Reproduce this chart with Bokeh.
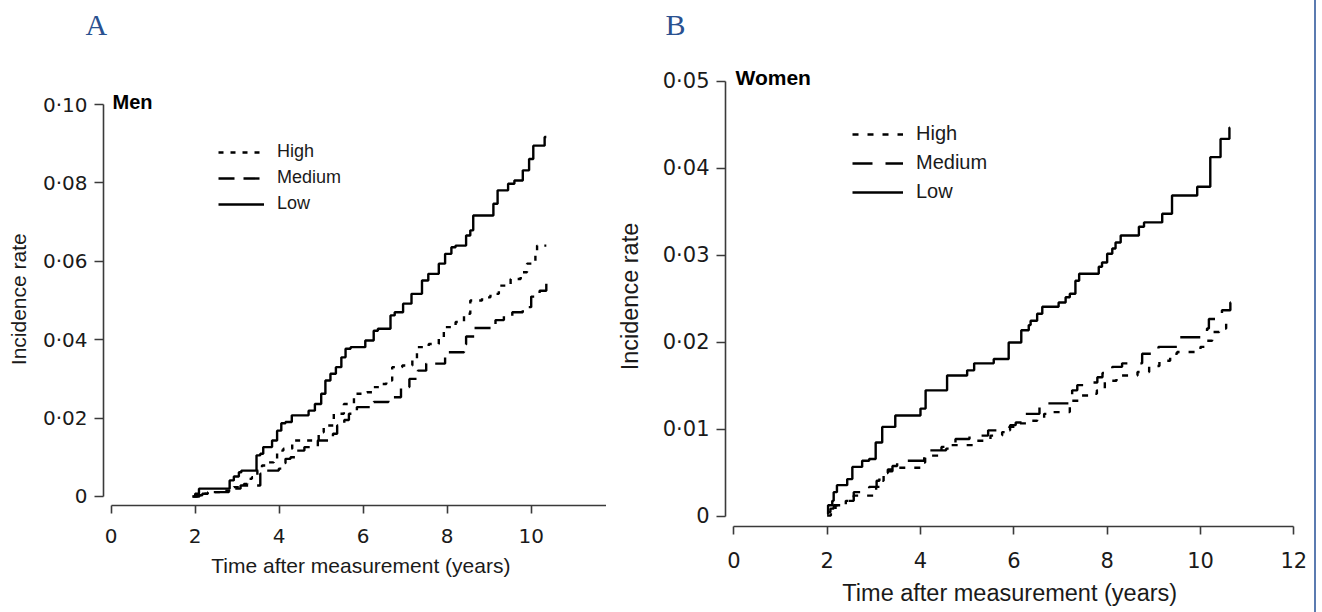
from bokeh.plotting import figure
from bokeh.models import (Range1d, FixedTicker, CustomJSTickFormatter, Legend,
                          LegendItem, Label, Title)
from bokeh.layouts import row
from bokeh.embed import file_html
from bokeh.resources import INLINE

groups = ["High", "Medium", "Low"]
x_ticks = [0, 2, 4, 6, 8, 10, 12]
men_y_ticks = [0, 0.02, 0.04, 0.06, 0.08, 0.10]
women_y_ticks = [0, 0.01, 0.02, 0.03, 0.04, 0.05]

# ---- Panel A: Men (time in years, cumulative incidence after each step) ----
men_high_t = [2.00, 2.10, 2.20, 2.30, 2.60, 2.92, 3.16, 3.24, 3.35, 3.48,
              3.59, 3.70, 3.87, 3.95, 4.10, 4.31, 4.94, 5.06, 5.30, 5.54,
              5.78, 6.09, 6.25, 6.41, 6.55, 6.69, 6.93, 7.17, 7.28, 7.56,
              7.80, 7.92, 8.20, 8.40, 8.55, 8.83, 9.03, 9.23, 9.51, 9.75,
              9.90, 10.10, 10.14, 10.36]
men_high_y = [0.0, 0.0003, 0.0007, 0.0011, 0.0015, 0.0024, 0.0032, 0.0045, 0.0049, 0.0066,
              0.0079, 0.0087, 0.0092, 0.0117, 0.0122, 0.0143, 0.0164, 0.0181, 0.0211, 0.0236,
              0.0262, 0.0266, 0.0279, 0.0287, 0.0296, 0.0330, 0.0334, 0.0351, 0.0381, 0.0389,
              0.0402, 0.0432, 0.0445, 0.0466, 0.0500, 0.0508, 0.0517, 0.0538, 0.0555, 0.0572,
              0.0594, 0.0619, 0.0640, 0.0640]

men_medium_t = [1.95, 2.05, 2.17, 2.32, 2.80, 3.08, 3.55, 3.67, 3.99, 4.05,
                4.15, 4.27, 4.40, 4.60, 4.92, 5.28, 5.38, 5.55, 5.66, 5.85,
                6.25, 6.60, 6.90, 7.10, 7.30, 7.50, 7.95, 8.40, 8.45, 8.65,
                9.15, 9.35, 9.55, 9.80, 10.00, 10.20, 10.36, 10.40]
men_medium_y = [0.0, 0.0003, 0.0007, 0.0011, 0.0020, 0.0028, 0.0058, 0.0066, 0.0071, 0.0085,
                0.0096, 0.0100, 0.0117, 0.0126, 0.0143, 0.0160, 0.0181, 0.0195, 0.0211, 0.0228,
                0.0241, 0.0253, 0.0279, 0.0300, 0.0321, 0.0339, 0.0368, 0.0388, 0.0408, 0.0430,
                0.0450, 0.0460, 0.0470, 0.0483, 0.0510, 0.0525, 0.0560, 0.0560]

men_low_t = [1.93, 2.00, 2.09, 2.82, 2.92, 3.04, 3.10, 3.46, 3.55, 3.62,
             3.83, 3.95, 4.05, 4.15, 4.30, 4.70, 4.85, 5.00, 5.10, 5.22,
             5.35, 5.48, 5.58, 5.70, 6.05, 6.25, 6.35, 6.65, 6.75, 6.95,
             7.15, 7.40, 7.55, 7.80, 7.95, 8.10, 8.20, 8.45, 8.55, 8.62,
             9.10, 9.20, 9.45, 9.60, 9.80, 9.95, 10.05, 10.32, 10.36]
men_low_y = [0.0, 0.0007, 0.0020, 0.0041, 0.0051, 0.0062, 0.0066, 0.0105, 0.0109, 0.0126,
             0.0143, 0.0168, 0.0187, 0.0190, 0.0207, 0.0219, 0.0236, 0.0262, 0.0296, 0.0313,
             0.0330, 0.0355, 0.0377, 0.0381, 0.0398, 0.0423, 0.0428, 0.0462, 0.0470, 0.0492,
             0.0517, 0.0551, 0.0568, 0.0594, 0.0619, 0.0636, 0.0640, 0.0666, 0.0679, 0.0717,
             0.0747, 0.0781, 0.0798, 0.0806, 0.0832, 0.0861, 0.0895, 0.0917, 0.0917]

# ---- Panel B: Women ----
women_high_t = [2.00, 2.08, 2.18, 2.40, 2.57, 3.05, 3.14, 3.21, 3.30, 3.39,
                4.02, 4.10, 4.45, 4.60, 5.18, 5.50, 5.75, 5.90, 6.08, 6.30,
                6.50, 6.65, 6.80, 7.20, 7.40, 7.65, 7.78, 7.95, 8.20, 8.65,
                8.90, 9.12, 9.35, 9.50, 10.00, 10.10, 10.25, 10.40, 10.55, 10.62]
women_high_y = [0.0001, 0.0007, 0.0013, 0.0018, 0.0024, 0.0034, 0.0041, 0.0048, 0.0054, 0.0056,
                0.0062, 0.0070, 0.0080, 0.0082, 0.0087, 0.0093, 0.0097, 0.0103, 0.0107, 0.0110,
                0.0112, 0.0118, 0.0120, 0.0133, 0.0139, 0.0141, 0.0145, 0.0156, 0.0162, 0.0166,
                0.0173, 0.0179, 0.0187, 0.0189, 0.0195, 0.0202, 0.0212, 0.0216, 0.0222, 0.0222]

women_medium_t = [2.00, 2.07, 2.14, 2.36, 2.57, 2.75, 2.90, 3.06, 3.12, 3.20,
                  3.30, 3.40, 3.50, 4.08, 4.20, 4.55, 4.75, 5.05, 5.45, 5.92,
                  6.04, 6.18, 6.25, 6.55, 6.65, 7.25, 7.36, 7.50, 7.79, 7.90,
                  8.11, 8.32, 8.75, 8.96, 9.10, 9.50, 10.14, 10.18, 10.46, 10.64,
                  10.65]
women_medium_y = [0.0005, 0.0009, 0.0013, 0.0018, 0.0028, 0.0030, 0.0034, 0.0041, 0.0046, 0.0050,
                  0.0052, 0.0058, 0.0064, 0.0072, 0.0076, 0.0078, 0.0089, 0.0093, 0.0099, 0.0105,
                  0.0108, 0.0112, 0.0118, 0.0126, 0.0130, 0.0145, 0.0151, 0.0154, 0.0160, 0.0165,
                  0.0172, 0.0176, 0.0187, 0.0189, 0.0195, 0.0206, 0.0216, 0.0227, 0.0237, 0.0246,
                  0.0246]

women_low_t = [2.00, 2.02, 2.11, 2.14, 2.21, 2.43, 2.54, 2.75, 2.90, 3.04,
               3.18, 3.46, 4.00, 4.11, 4.57, 5.00, 5.15, 5.57, 5.89, 6.16,
               6.32, 6.36, 6.50, 6.61, 6.96, 7.11, 7.20, 7.32, 7.40, 7.82,
               7.89, 8.00, 8.11, 8.18, 8.29, 8.68, 8.79, 9.18, 9.39, 9.93,
               10.21, 10.43, 10.62, 10.63]
women_low_y = [0.0003, 0.0013, 0.0018, 0.0028, 0.0036, 0.0043, 0.0057, 0.0064, 0.0066, 0.0085,
               0.0103, 0.0116, 0.0124, 0.0145, 0.0162, 0.0168, 0.0176, 0.0181, 0.0200, 0.0214,
               0.0220, 0.0225, 0.0233, 0.0241, 0.0246, 0.0252, 0.0256, 0.0271, 0.0279, 0.0287,
               0.0292, 0.0302, 0.0308, 0.0315, 0.0323, 0.0333, 0.0338, 0.0348, 0.0369, 0.0379,
               0.0413, 0.0434, 0.0447, 0.0447]

TEXT = "#1a1a1a"
AXIS = "#3a3a3a"
PANEL_COLOR = "#2a5190"
SANS = "Liberation Sans"
TICKFONT = "DejaVu Sans"
NB = "\u00a0"

fmt = CustomJSTickFormatter(code="return tick == 0 ? '0' : tick.toFixed(2).replace('.', '\u00b7');")


def make_panel(width, height, borders, xr, yr, y_ticks, y_bound, series, dashes,
               tick_size, label_size, legend_size, legend_geom, letter, letter_offset,
               sub, sub_geom, tick_standoff, xlabel_standoff, ylabel_standoff,
               xlabel_pad, ylabel_pad):
    p = figure(width=width, height=height, output_backend="svg", toolbar_location=None,
               x_range=Range1d(*xr), y_range=Range1d(*yr),
               min_border_left=borders[0], min_border_right=borders[1],
               min_border_top=borders[2], min_border_bottom=borders[3])
    if "frame_align" in p.properties():
        p.frame_align = False
    p.outline_line_color = None
    p.xgrid.visible = False
    p.ygrid.visible = False
    p.background_fill_color = "white"
    p.border_fill_color = "white"

    renderers = []
    for (t, y), dash in zip(series, dashes):
        r = p.step(t, y, mode="after", line_color="black", line_width=2.4,
                   line_dash=dash)
        renderers.append(r)

    for ax in (p.xaxis[0], p.yaxis[0]):
        ax.axis_line_color = AXIS
        ax.axis_line_width = 1.6
        ax.major_tick_line_color = AXIS
        ax.major_tick_line_width = 1.6
        ax.major_tick_in = 0
        ax.minor_tick_line_color = None
        ax.major_label_text_font = TICKFONT
        ax.major_label_text_font_size = tick_size
        ax.major_label_text_color = TEXT
        ax.axis_label_text_font = SANS
        ax.axis_label_text_font_size = label_size
        ax.axis_label_text_font_style = "normal"
        ax.axis_label_text_color = TEXT

    xa = p.xaxis[0]
    xa.ticker = FixedTicker(ticks=x_ticks)
    xa.bounds = (0, 12)
    xa.major_tick_out = 8
    xa.major_label_standoff = tick_standoff[0]
    xa.axis_label = NB * xlabel_pad[0] + "Time after measurement (years)" + NB * xlabel_pad[1]
    xa.axis_label_standoff = xlabel_standoff

    ya = p.yaxis[0]
    ya.ticker = FixedTicker(ticks=y_ticks)
    ya.bounds = (0, y_bound)
    ya.formatter = fmt
    ya.major_tick_out = 9
    ya.major_label_standoff = tick_standoff[1]
    ya.axis_label = "Incidence rate" + NB * ylabel_pad
    ya.axis_label_standoff = ylabel_standoff

    gw, gh, sp, lx, ly, ls = legend_geom
    legend = Legend(items=[LegendItem(label=g, renderers=[r]) for g, r in zip(groups, renderers)],
                    location=(lx, ly), orientation="vertical",
                    glyph_width=gw, glyph_height=gh, label_height=gh, spacing=sp,
                    label_standoff=ls, padding=0, margin=0,
                    border_line_color=None, background_fill_alpha=0,
                    label_text_font=SANS, label_text_font_size=legend_size,
                    label_text_color=TEXT)
    p.add_layout(legend)

    # panel letter above the frame
    p.add_layout(Title(text=letter, align="left", offset=letter_offset,
                       vertical_align="bottom", standoff=0,
                       text_font="Liberation Serif", text_font_size="30px",
                       text_font_style="normal", text_color=PANEL_COLOR), "above")

    # sub-title (Men / Women) inside the frame, above the top of the y axis
    sx, sy, ssize = sub_geom
    p.add_layout(Label(x=xr[0], y=y_bound, x_offset=sx, y_offset=sy,
                       text=sub, text_font=SANS, text_font_size=ssize,
                       text_font_style="bold", text_color="black",
                       text_align="left", text_baseline="alphabetic"))
    return p


pa = make_panel(606, 612, (103, 0, 40, 107), (-0.1833, 11.793), (-0.0023, 0.11633),
                men_y_ticks, 0.1,
                [(men_high_t, men_high_y), (men_medium_t, men_medium_y), (men_low_t, men_low_y)],
                ["5 7", "16 9", "solid"],
                "20px", "21px", "18px", (46, 20, 5, 115, 291, 13),
                "A", -18, "Men", (9, 3, "20px"), (15, 7), 8, 10, (2, 0), 9)

pb = make_panel(710, 612, (119, 16, 40, 86), (-0.178, 12.143), (-0.00115, 0.05471),
                women_y_ticks, 0.05,
                [(women_high_t, women_high_y), (women_medium_t, women_medium_y), (women_low_t, women_low_y)],
                ["6 9", "20 13", "solid"],
                "21px", "23.5px", "20px", (51, 22, 6, 127, 323, 13),
                "B", -60, "Women", (10, 4, "21px"), (17, 7), 9, 17, (0, 1), 4)
pb.styles = {"border-right": "2px solid #5b7bb0"}

layout = row(pa, pb)
with open("out.html", "w", encoding="utf-8") as f:
    f.write(file_html(layout, INLINE))
